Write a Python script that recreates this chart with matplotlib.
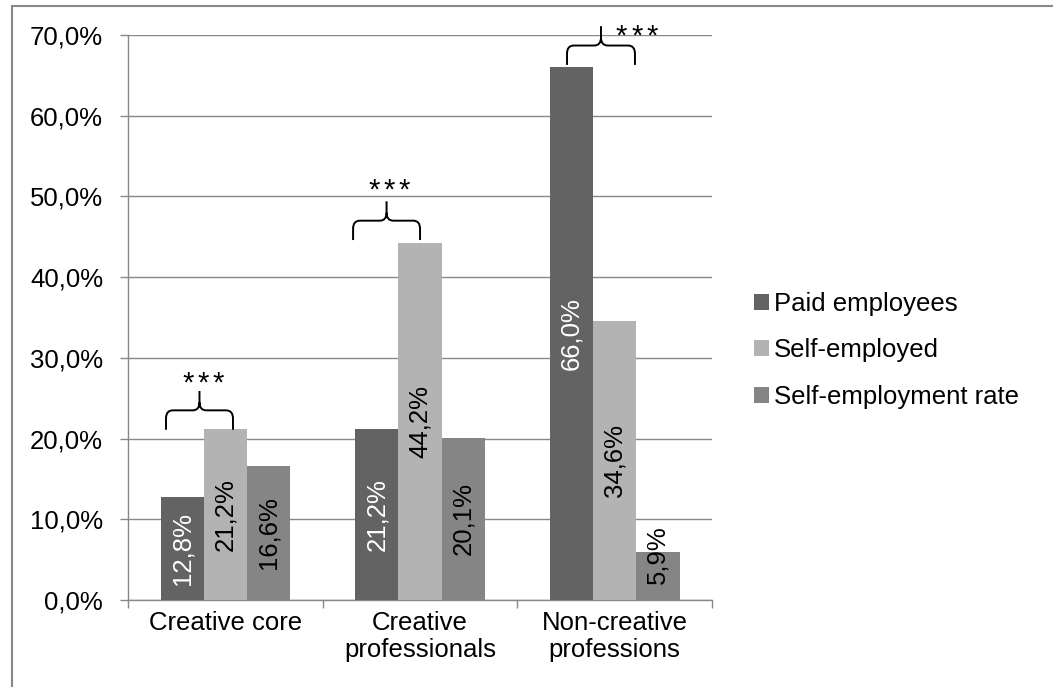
import matplotlib

matplotlib.use("Agg")
import matplotlib.pyplot as plt
import numpy as np
from matplotlib.patches import Patch, PathPatch, Rectangle
from matplotlib.path import Path

plt.rcParams["font.family"] = ["Liberation Sans", "DejaVu Sans"]

categories = ["Creative core", "Creative\nprofessionals", "Non-creative\nprofessions"]
series_names = ["Paid employees", "Self-employed", "Self-employment rate"]
paid = [12.8, 21.2, 66.0]
self_employed = [21.2, 44.2, 34.6]
rate = [16.6, 20.1, 5.9]
y_ticks = [0, 10, 20, 30, 40, 50, 60, 70]
# significance braces: left x, right x, bottom y, stars x, stars baseline y
braces = [
    (-0.305, 0.039, 21.1, -0.115, 25.8),
    (0.656, 1.0, 44.6, 0.841, 49.7),
    (1.755, 2.104, 66.3, 2.114, 68.8),
]

colors = ["#636363", "#b3b3b3", "#858585"]
label_colors = ["white", "black", "black"]
grey = "#888888"
fs = 18.5

fig = plt.figure(figsize=(10.53, 6.87), dpi=100)
ax = fig.add_axes([0.1216, 0.1266, 0.5546, 0.8224])

x = np.arange(len(categories))
width = 0.222
values = [paid, self_employed, rate]
for i, (vals, col, lcol) in enumerate(zip(values, colors, label_colors)):
    pos = x + (i - 1) * width
    ax.bar(pos, vals, width=width, color=col, zorder=3)
    for px, v in zip(pos, vals):
        ax.text(px, max(v / 2, 5.6), f"{v:.1f}%".replace(".", ","), rotation=90,
                ha="center", va="center", color=lcol, fontsize=fs, zorder=4)

ax.set_xlim(-0.5, 2.5)
ax.set_ylim(0, 70)
ax.set_yticks(y_ticks)
ax.set_yticklabels([f"{t:.1f}%".replace(".", ",") for t in y_ticks], fontsize=fs)
ax.set_xticks(x)
ax.set_xticklabels(categories, fontsize=fs, linespacing=1.15)
ax.set_xticks([-0.5, 0.5, 1.5, 2.5], minor=True)
ax.tick_params(axis="x", which="major", length=0, pad=8)
ax.tick_params(axis="x", which="minor", length=6, color=grey, width=1)
ax.tick_params(axis="y", length=6, color=grey, width=1, pad=12)
ax.yaxis.grid(True, color=grey, linewidth=1, zorder=0)
ax.set_axisbelow(True)
for side in ["top", "right"]:
    ax.spines[side].set_visible(False)
for side in ["left", "bottom"]:
    ax.spines[side].set_color(grey)
    ax.spines[side].set_linewidth(1)


def draw_brace(ax, xl, xr, yb):
    xm = (xl + xr) / 2
    yh = yb + 2.4
    yt = yb + 4.8
    rx, ry = 0.035, 1.0
    verts = [
        (xl, yb), (xl, yh - ry), (xl, yh), (xl + rx, yh),
        (xm - rx, yh), (xm, yh), (xm, yh + ry), (xm, yt),
        (xm, yh + ry), (xm, yh), (xm + rx, yh),
        (xr - rx, yh), (xr, yh), (xr, yh - ry), (xr, yb),
    ]
    codes = [Path.MOVETO, Path.LINETO, Path.CURVE3, Path.CURVE3,
             Path.LINETO, Path.CURVE3, Path.CURVE3, Path.LINETO,
             Path.MOVETO, Path.CURVE3, Path.CURVE3,
             Path.LINETO, Path.CURVE3, Path.CURVE3, Path.LINETO]
    ax.add_patch(PathPatch(Path(verts, codes), fill=False, lw=1.4,
                           color="black", clip_on=False, zorder=5))


for xl, xr, yb, sx, sy in braces:
    draw_brace(ax, xl, xr, yb)
    for dx in (-11, 0, 11):
        ax.annotate("*", (sx, sy), xytext=(dx, 0), textcoords="offset points",
                    ha="center", va="baseline", fontsize=21, annotation_clip=False)

handles = [Patch(facecolor=c, label=n) for c, n in zip(colors, series_names)]
fig.legend(handles=handles, loc="center left", bbox_to_anchor=(0.716, 0.49),
           frameon=False, fontsize=fs, handlelength=0.58, handleheight=0.58,
           handletextpad=0.2, labelspacing=0.88, borderpad=0, borderaxespad=0)

fig.patches.append(Rectangle((12 / 1053, -0.1), 1.2, 1.1 - 6 / 687,
                             transform=fig.transFigure, fill=False,
                             edgecolor=grey, linewidth=1.5))

fig.savefig("out.png", dpi=100)
